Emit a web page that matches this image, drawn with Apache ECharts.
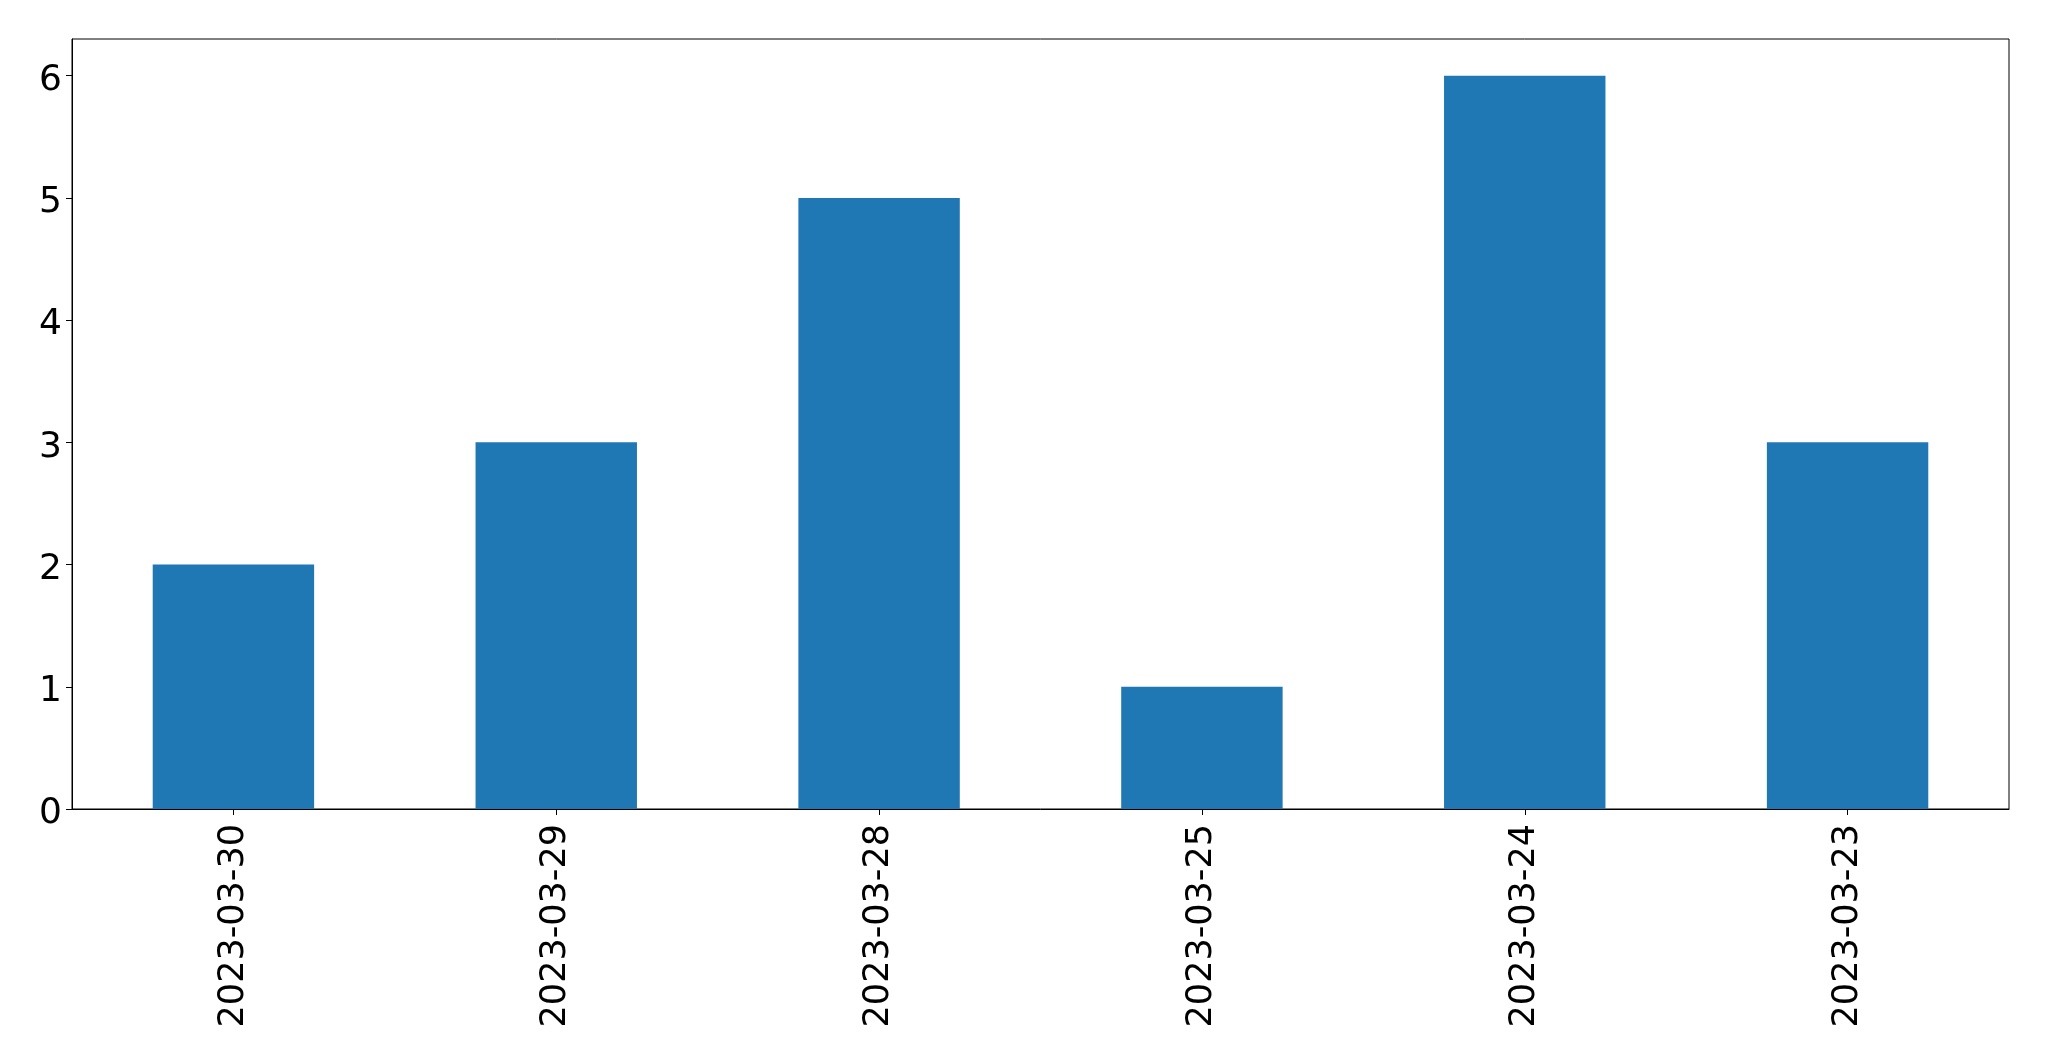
<!DOCTYPE html>
<html>
<head>
<meta charset="utf-8">
<script src="https://cdn.jsdelivr.net/npm/echarts@6/dist/echarts.min.js"></script>
<style>
html,body{margin:0;padding:0;background:#fff;}
#chart{width:2049px;height:1061px;}
</style>
</head>
<body>
<div id="chart"></div>
<script>
const categories = ['2023-03-30','2023-03-29','2023-03-28','2023-03-25','2023-03-24','2023-03-23'];
const counts = [2, 3, 5, 1, 6, 3];
const yTicks = [0, 1, 2, 3, 4, 5, 6];

const chart = echarts.init(document.getElementById('chart'), null, {renderer:'canvas'});
const font = 'DejaVu Sans';
chart.setOption({
  animation: false,
  backgroundColor: '#ffffff',
  grid: {left: 72, right: 40, top: 39, bottom: 252, show: true, borderColor: '#000', borderWidth: 1, backgroundColor: 'transparent'},
  xAxis: {
    type: 'category',
    data: categories,
    boundaryGap: true,
    axisLine: {show: true, lineStyle: {color: '#000', width: 1}},
    axisTick: {show: true, alignWithLabel: true, length: 6, lineStyle: {color: '#000', width: 1}},
    axisLabel: {rotate: 90, margin: 15, color: '#000', fontSize: 35, fontFamily: font, interval: 0},
    splitLine: {show: false}
  },
  yAxis: {
    type: 'value',
    min: 0,
    max: 6.3,
    interval: 1,
    axisLine: {show: true, lineStyle: {color: '#000', width: 1}},
    axisTick: {show: true, length: 6, lineStyle: {color: '#000', width: 1}, customValues: yTicks},
    axisLabel: {color: '#000', fontSize: 36, fontFamily: font, margin: 10, verticalAlign: 'top', lineHeight: 10, customValues: yTicks},
    splitLine: {show: false}
  },
  series: [{
    type: 'bar',
    data: counts,
    barWidth: '50%',
    itemStyle: {color: '#1f77b4'}
  }]
});
</script>
</body>
</html>
